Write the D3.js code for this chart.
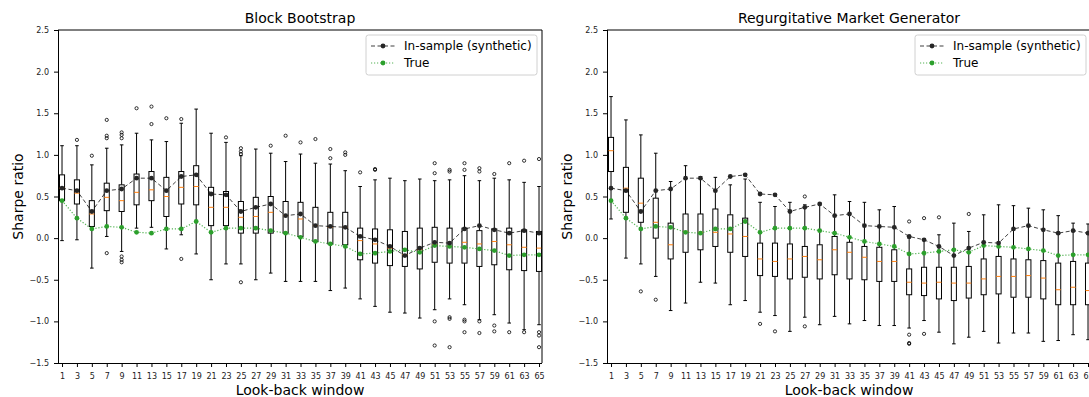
<!DOCTYPE html>
<html>
<head>
<meta charset="utf-8">
<script src="https://cdn.jsdelivr.net/npm/d3@7"></script>
<style>
  body { margin: 0; background: #fff; }
  svg { font-family: "DejaVu Sans", sans-serif; }
</style>
</head>
<body>
<svg id="chart" width="1089" height="397"></svg>
<script>
// look-back windows (x categories)
const windows = [1,3,5,7,9,11,13,15,17,19,21,23,25,27,29,31,33,35,37,39,41,43,45,47,49,51,53,55,57,59,61,63,65];
const yTicks = [-1.5,-1.0,-0.5,0.0,0.5,1.0,1.5,2.0,2.5];

// lines shared by both panels
const inSample = [0.60,0.57,0.32,0.57,0.59,0.72,0.72,0.57,0.74,0.76,0.53,0.52,0.32,0.37,0.41,0.27,0.29,0.15,0.14,0.13,0.02,-0.02,-0.10,-0.21,-0.12,-0.05,-0.06,0.11,0.15,0.10,0.06,0.09,0.06];
const trueSharpe = [0.45,0.24,0.11,0.14,0.13,0.07,0.06,0.11,0.11,0.20,0.07,0.12,0.12,0.12,0.09,0.06,0.01,-0.04,-0.07,-0.10,-0.19,-0.18,-0.16,-0.14,-0.17,-0.09,-0.10,-0.11,-0.13,-0.15,-0.21,-0.20,-0.20];

// Block Bootstrap box stats
const bbLow  = [-0.03,-0.02,-0.36,0.02,-0.16,0.12,0.13,-0.13,0.04,-0.19,-0.50,-0.31,-0.31,-0.50,-0.42,-0.52,-0.52,-0.52,-0.63,-0.60,-0.73,-0.82,-0.89,-0.90,-0.96,-0.86,-0.73,-0.80,-0.98,-0.92,-1.02,-1.10,-1.04];
const bbQ1   = [0.45,0.41,0.14,0.33,0.32,0.40,0.45,0.26,0.41,0.40,0.15,0.15,0.06,0.06,0.06,0.06,0.02,-0.04,-0.07,-0.08,-0.26,-0.30,-0.33,-0.34,-0.37,-0.29,-0.30,-0.30,-0.34,-0.32,-0.38,-0.39,-0.40];
const bbMed  = [0.60,0.54,0.29,0.49,0.45,0.55,0.58,0.50,0.61,0.62,0.37,0.37,0.25,0.26,0.31,0.27,0.23,0.15,0.13,0.13,-0.03,-0.07,-0.12,-0.20,-0.14,-0.08,-0.10,-0.05,-0.07,-0.04,-0.08,-0.11,-0.12];
const bbQ3   = [0.76,0.70,0.45,0.66,0.64,0.77,0.80,0.73,0.80,0.87,0.61,0.56,0.44,0.49,0.50,0.44,0.43,0.37,0.31,0.31,0.12,0.11,0.10,0.08,0.12,0.13,0.12,0.12,0.09,0.11,0.12,0.10,0.08];
const bbHigh = [1.11,1.11,0.88,1.08,1.12,1.26,1.18,1.16,1.38,1.55,1.26,1.15,0.99,1.07,1.02,0.92,1.01,0.90,0.89,0.81,0.62,0.70,0.72,0.69,0.71,0.69,0.70,0.75,0.69,0.72,0.70,0.67,0.62];
const bbOut  = [[],[1.18],[0.99],[1.42,1.23,1.20,-0.18],[1.27,1.24,1.20,-0.22,-0.26,-0.29],[1.56],[1.58,1.37],[1.44],[1.43,-0.25],[],[],[1.21],
  [1.08,1.04,1.01,-0.53],[],[1.11],[1.23],[1.15],[1.19],[1.07,0.96],[1.03,1.00],[0.79],[0.83,0.82],[],[],[],
  [0.90,0.78,-1.00,-1.29],[0.82,0.80,-0.95,-0.97,-1.31],[0.90,0.82,-0.98,-1.00,-1.13],[0.84,0.80,-1.00,-1.14],[0.77,-1.05,-1.12],[0.90,-1.13],[0.93,-1.13],[0.95,-1.13,-1.17,-1.31]];

// Regurgitative Market Generator box stats
const rmgLow  = [0.23,-0.24,-0.31,-0.46,-0.87,-0.78,-0.53,-0.54,-0.80,-0.75,-0.89,-0.93,-1.12,-0.95,-1.04,-0.94,-1.03,-0.99,-1.05,-1.05,-1.08,-0.99,-1.13,-1.27,-1.19,-1.12,-1.26,-1.14,-1.14,-1.24,-1.23,-1.16,-1.22];
const rmgQ1   = [0.80,0.31,0.19,0.00,-0.25,-0.17,-0.14,-0.10,-0.17,-0.22,-0.45,-0.46,-0.49,-0.47,-0.49,-0.44,-0.49,-0.50,-0.52,-0.52,-0.68,-0.69,-0.73,-0.75,-0.72,-0.68,-0.67,-0.71,-0.71,-0.73,-0.80,-0.80,-0.80];
const rmgMed  = [1.05,0.60,0.42,0.19,-0.08,0.08,0.07,0.07,0.05,0.02,-0.25,-0.28,-0.25,-0.22,-0.26,-0.14,-0.17,-0.23,-0.28,-0.28,-0.53,-0.54,-0.53,-0.54,-0.54,-0.49,-0.46,-0.46,-0.45,-0.48,-0.62,-0.59,-0.63];
const rmgQ3   = [1.21,0.85,0.72,0.48,0.18,0.29,0.29,0.35,0.28,0.24,-0.06,-0.06,-0.07,-0.10,-0.08,0.02,-0.05,-0.10,-0.11,-0.14,-0.37,-0.35,-0.35,-0.35,-0.34,-0.25,-0.22,-0.25,-0.26,-0.27,-0.30,-0.28,-0.30];
const rmgHigh = [1.70,1.42,1.24,1.02,0.68,0.87,0.74,0.73,0.64,0.71,0.43,0.38,0.43,0.40,0.42,0.52,0.44,0.43,0.34,0.38,0.00,-0.02,0.04,0.18,0.08,0.28,0.40,0.39,0.36,0.34,0.27,0.18,0.17];
const rmgOut  = [[],[],[-0.64],[-0.74],[],[],[],[],[],[],[-1.03],[-1.12],[],[0.50,-1.06],[],[],[],[],[],[],
  [0.20,-1.16,-1.26,-1.27],[0.24,-1.15],[0.25],[],[0.29],[],[],[],[],[],[],[],[]];

const svg = d3.select("#chart");
const plotTop = 30, plotH = 333, plotW = 484;

const y = d3.scaleLinear().domain([-1.5, 2.5]).range([plotTop + plotH, plotTop]);

function drawPanel(left, title, low, q1, med, q3, high, outliers) {
  const x = d3.scaleLinear().domain([0.46, 65.4]).range([left, left + plotW]);
  const g = svg.append("g");
  const half = 0.34, cap = 0.24;

  // axes
  g.append("g")
    .attr("transform", `translate(${left},0)`)
    .call(d3.axisLeft(y).tickValues(yTicks).tickSize(4).tickPadding(5).tickFormat(d3.format(".1f")))
    .call(a => a.select(".domain").remove())
    .selectAll("text").attr("font-size", 8).attr("font-family", "DejaVu Sans").attr("fill", "#222");

  g.append("g")
    .attr("transform", `translate(0,${plotTop + plotH})`)
    .call(d3.axisBottom(x).tickValues(windows).tickSize(4).tickPadding(6).tickFormat(d3.format("d")))
    .call(a => a.select(".domain").remove())
    .selectAll("text").attr("font-size", 8).attr("font-family", "DejaVu Sans").attr("fill", "#222");

  // boxes
  const boxes = g.selectAll(".box").data(windows).enter().append("g");
  boxes.append("line")
    .attr("x1", w => x(w)).attr("x2", w => x(w))
    .attr("y1", (w, i) => y(high[i])).attr("y2", (w, i) => y(q3[i]))
    .attr("stroke", "#000");
  boxes.append("line")
    .attr("x1", w => x(w)).attr("x2", w => x(w))
    .attr("y1", (w, i) => y(q1[i])).attr("y2", (w, i) => y(low[i]))
    .attr("stroke", "#000");
  boxes.append("line")
    .attr("x1", w => x(w - cap)).attr("x2", w => x(w + cap))
    .attr("y1", (w, i) => y(high[i])).attr("y2", (w, i) => y(high[i]))
    .attr("stroke", "#000");
  boxes.append("line")
    .attr("x1", w => x(w - cap)).attr("x2", w => x(w + cap))
    .attr("y1", (w, i) => y(low[i])).attr("y2", (w, i) => y(low[i]))
    .attr("stroke", "#000");
  boxes.append("rect")
    .attr("x", w => x(w - half)).attr("width", w => x(w + half) - x(w - half))
    .attr("y", (w, i) => y(q3[i])).attr("height", (w, i) => y(q1[i]) - y(q3[i]))
    .attr("fill", "#fff").attr("stroke", "#000");
  boxes.append("line")
    .attr("x1", w => x(w - half)).attr("x2", w => x(w + half))
    .attr("y1", (w, i) => y(med[i])).attr("y2", (w, i) => y(med[i]))
    .attr("stroke", "#ff7f0e");
  boxes.each(function (w, i) {
    d3.select(this).selectAll("circle").data(outliers[i]).enter().append("circle")
      .attr("cx", x(w)).attr("cy", v => y(v)).attr("r", 1.6)
      .attr("fill", "none").attr("stroke", "#000").attr("stroke-width", 0.8);
  });

  // lines
  const line = d3.line().x((v, i) => x(windows[i])).y(v => y(v));
  g.append("path").datum(trueSharpe).attr("d", line)
    .attr("fill", "none").attr("stroke", "#2ca02c").attr("stroke-width", 1.2)
    .attr("stroke-dasharray", "1.2,1.8").attr("opacity", 0.8);
  g.selectAll(".tdot").data(trueSharpe).enter().append("circle")
    .attr("cx", (v, i) => x(windows[i])).attr("cy", v => y(v)).attr("r", 2.4)
    .attr("fill", "#2ca02c");
  g.append("path").datum(inSample).attr("d", line)
    .attr("fill", "none").attr("stroke", "#000").attr("stroke-width", 1)
    .attr("stroke-dasharray", "4,2.5").attr("opacity", 0.75);
  g.selectAll(".sdot").data(inSample).enter().append("circle")
    .attr("cx", (v, i) => x(windows[i])).attr("cy", v => y(v)).attr("r", 2.4)
    .attr("fill", "#262626");

  // spines
  g.append("line").attr("x1", left + 0.5).attr("x2", left + 0.5).attr("y1", plotTop).attr("y2", plotTop + plotH).attr("stroke", "#000");
  g.append("line").attr("x1", left).attr("x2", left + plotW).attr("y1", plotTop + plotH + 0.5).attr("y2", plotTop + plotH + 0.5).attr("stroke", "#000");
  g.append("line").attr("x1", left).attr("x2", left + plotW).attr("y1", plotTop).attr("y2", plotTop).attr("stroke", "#000");
  g.append("line").attr("x1", left + plotW).attr("x2", left + plotW).attr("y1", plotTop).attr("y2", plotTop + plotH).attr("stroke", "#000");

  // texts
  g.append("text").attr("x", left + plotW / 2).attr("y", 23)
    .attr("text-anchor", "middle").attr("font-size", 14).text(title);
  g.append("text").attr("x", left + plotW / 2).attr("y", 395)
    .attr("text-anchor", "middle").attr("font-size", 14).text("Look-back window");
  g.append("text").attr("transform", `translate(${left - 35},${plotTop + plotH / 2}) rotate(-90)`)
    .attr("text-anchor", "middle").attr("font-size", 14).text("Sharpe ratio");

  // legend
  const lx = left + plotW - 176, ly = 35;
  const lg = g.append("g").attr("transform", `translate(${lx},${ly})`);
  lg.append("rect").attr("width", 171).attr("height", 40).attr("rx", 2.5)
    .attr("fill", "#fff").attr("fill-opacity", 0.85).attr("stroke", "#d0d0d0");
  const items = [
    { label: "In-sample (synthetic)", color: "#000", dash: "4,2.5", dot: "#262626", op: 0.75 },
    { label: "True", color: "#2ca02c", dash: "1.2,1.8", dot: "#2ca02c", op: 0.8 }
  ];
  items.forEach((it, k) => {
    const cy = 11 + k * 17;
    lg.append("line").attr("x1", 5).attr("x2", 29).attr("y1", cy).attr("y2", cy)
      .attr("stroke", it.color).attr("stroke-dasharray", it.dash).attr("opacity", it.op);
    lg.append("circle").attr("cx", 17).attr("cy", cy).attr("r", 2.4).attr("fill", it.dot);
    lg.append("text").attr("x", 38).attr("y", cy + 4.3).attr("font-size", 12).text(it.label);
  });
}

drawPanel(58, "Block Bootstrap", bbLow, bbQ1, bbMed, bbQ3, bbHigh, bbOut);
drawPanel(607, "Regurgitative Market Generator", rmgLow, rmgQ1, rmgMed, rmgQ3, rmgHigh, rmgOut);
</script>
</body>
</html>
